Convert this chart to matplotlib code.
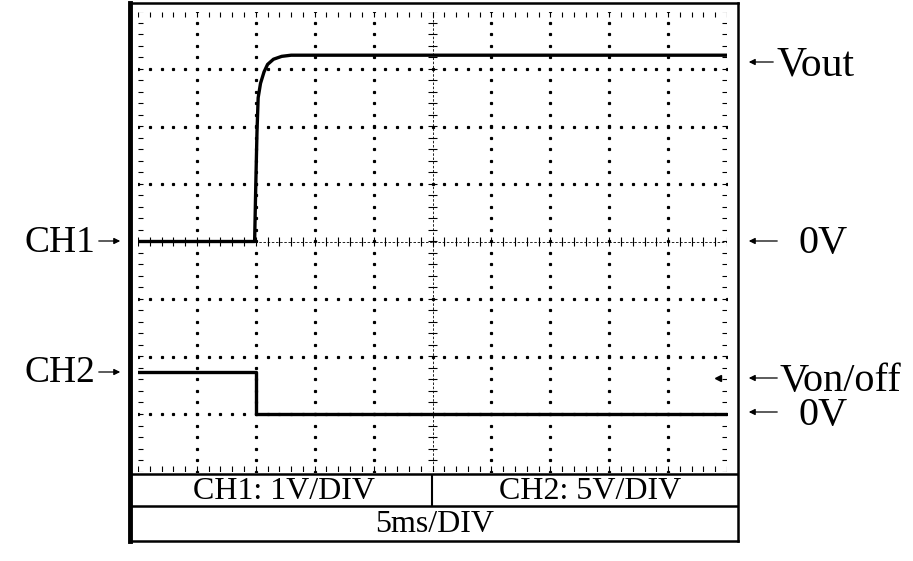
import matplotlib.pyplot as plt
import numpy as np

plt.rcParams['font.family'] = ['Liberation Serif', 'DejaVu Serif']

# CH1 trace (time in ms, volts; 1 V/div)
t_ch1 = [0, 9.9, 10.0, 10.1, 10.2, 10.4, 10.7, 11.0, 11.5, 12.2, 13.0, 50]
v_ch1 = [0, 0, 1.0, 1.9, 2.5, 2.75, 2.95, 3.08, 3.17, 3.22, 3.24, 3.24]

# CH2 trace (time in ms, volts; 5 V/div, ground 3 div below centre)
t_ch2 = [0, 10.0, 10.0, 50]
v_ch2 = [3.65, 3.65, 0, 0]
ch2_offset = -3.0
trig_t = 49.2
trig_v = 3.1

W, H = 913, 561
fig = plt.figure(figsize=(W / 100, H / 100), dpi=100)

# outer frame with the settings table, in pixel units
fr = fig.add_axes([130 / W, 1 - 541 / H, 608 / W, 538 / H])
fr.set_xlim(130, 738)
fr.set_ylim(541, 3)
fr.set_xticks([])
fr.set_yticks([])
for s in fr.spines.values():
    s.set_linewidth(1.8)
fr.spines['left'].set_linewidth(3.5)
fr.hlines([474, 506], 130, 738, color='black', lw=1.8)
fr.vlines(432, 474, 506, color='black', lw=1.5)
fr.text(284, 491, 'CH1: 1V/DIV', ha='center', va='center', fontsize=23)
fr.text(590, 491, 'CH2: 5V/DIV', ha='center', va='center', fontsize=23)
fr.text(435, 524, '5ms/DIV', ha='center', va='center', fontsize=23)

# scope screen: x in ms (5 ms/div), y in divisions
ax = fig.add_axes([138 / W, 1 - 471.5 / H, 589 / W, 460 / H])
ax.set_xlim(0, 50)
ax.set_ylim(-4, 4)
ax.axis('off')

minor_x = np.arange(0, 50.01, 1.0)
minor_y = np.arange(-4, 4.01, 0.2)
for xi in [5, 10, 15, 20, 30, 35, 40, 45]:
    ax.plot(np.full_like(minor_y, xi), minor_y, ls='none', marker='s', ms=1.3, color='black')
for yj in [-3, -2, -1, 1, 2, 3]:
    ax.plot(minor_x, np.full_like(minor_x, yj), ls='none', marker='s', ms=1.3, color='black')

# centre axes with ticks
ax.plot([0, 50], [0, 0], color='black', lw=0.6, ls=(0, (3, 2)))
ax.plot([25, 25], [-4, 4], color='black', lw=0.6, ls=(0, (3, 2)))
ax.vlines(minor_x, -0.08, 0.08, color='black', lw=0.8)
ax.hlines(minor_y, 24.6, 25.4, color='black', lw=0.8)

# ticks on screen edges
ax.vlines(minor_x, 3.9, 4.0, color='black', lw=0.8)
ax.vlines(minor_x, -4.0, -3.9, color='black', lw=0.8)
ax.hlines(minor_y, 0, 0.4, color='black', lw=0.8)
ax.hlines(minor_y, 49.6, 50, color='black', lw=0.8)

ax.plot(t_ch1, v_ch1, color='black', lw=2.4, solid_joinstyle='round')
ax.plot(t_ch2, np.array(v_ch2) / 5 + ch2_offset, color='black', lw=2.4)
ax.plot([trig_t], [trig_v / 5 + ch2_offset], marker='<', ms=5, color='black')

# labels with arrows outside the screen
arrow = dict(arrowstyle='-|>', lw=0.9, color='black', mutation_scale=9)


def px(x, y):
    return (x / W, 1 - y / H)


fig.text(*px(95, 243), 'CH1', ha='right', va='center', fontsize=27)
ax.annotate('', xy=px(123, 241), xytext=px(96, 241), xycoords='figure fraction', arrowprops=arrow)
fig.text(*px(95, 373), 'CH2', ha='right', va='center', fontsize=27)
ax.annotate('', xy=px(123, 372), xytext=px(96, 372), xycoords='figure fraction', arrowprops=arrow)

ax.annotate('', xy=px(746, 62), xytext=px(776, 62), xycoords='figure fraction', arrowprops=arrow)
fig.text(*px(776, 65), 'Vout', ha='left', va='center', fontsize=30)
ax.annotate('', xy=px(746, 241), xytext=px(780, 241), xycoords='figure fraction', arrowprops=arrow)
fig.text(*px(798, 244), '0V', ha='left', va='center', fontsize=29)
ax.annotate('', xy=px(746, 378), xytext=px(780, 378), xycoords='figure fraction', arrowprops=arrow)
fig.text(*px(780, 381), 'Von/off', ha='left', va='center', fontsize=29)
ax.annotate('', xy=px(746, 412), xytext=px(780, 412), xycoords='figure fraction', arrowprops=arrow)
fig.text(*px(798, 415), '0V', ha='left', va='center', fontsize=29)

fig.savefig('out.png', dpi=100)
